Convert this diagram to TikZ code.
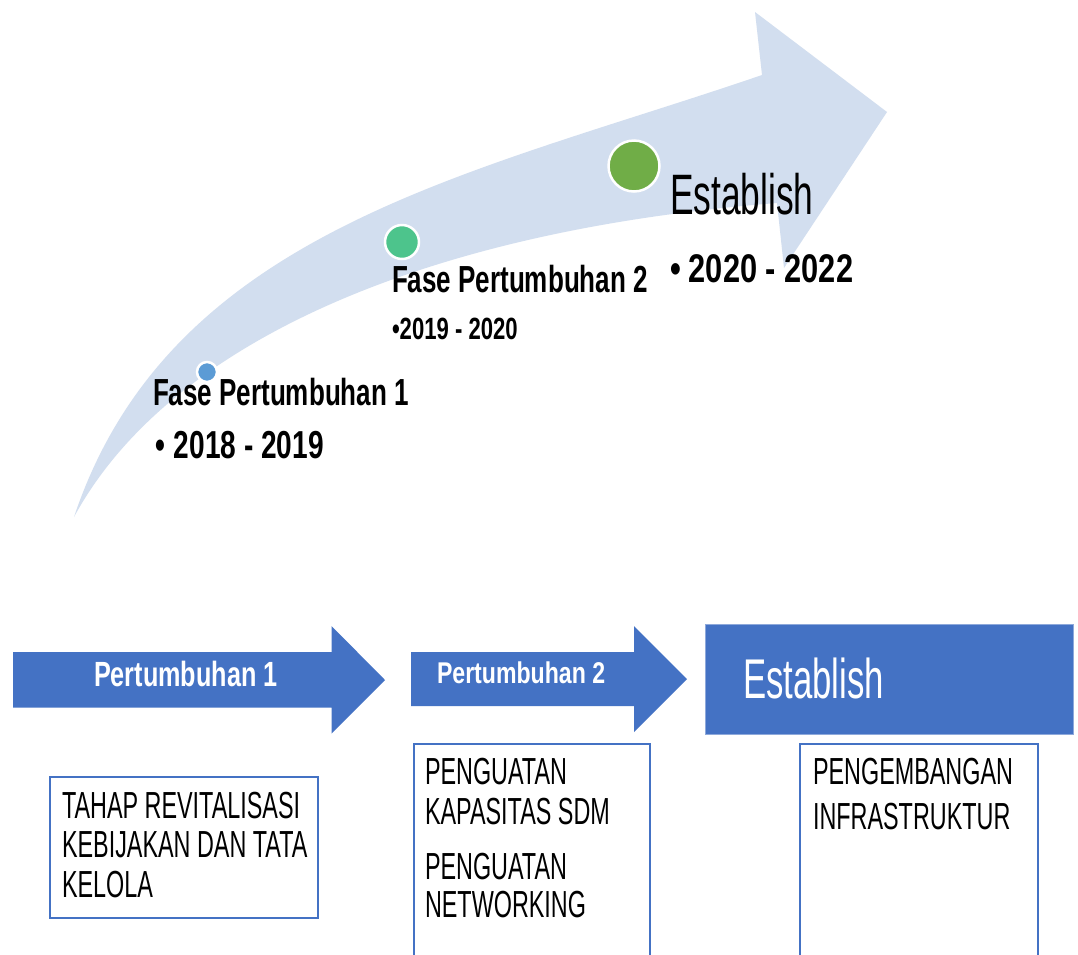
\documentclass[tikz,border=0pt]{standalone}
\usepackage{fontspec}
\newfontfamily\agr[FakeStretch=0.62]{Liberation Sans}
\newfontfamily\agb[FakeStretch=0.72]{Liberation Sans}
\newfontfamily\agbn[FakeStretch=0.69]{Liberation Sans}
\newfontfamily\agbw[FakeStretch=0.77]{Liberation Sans}
\definecolor{band}{HTML}{D2DEEF}
\definecolor{accent}{HTML}{4472C4}
\definecolor{accentlight}{HTML}{8EA9DB}
\definecolor{dotblue}{HTML}{5B9BD5}
\definecolor{dotteal}{HTML}{4DC48C}
\definecolor{dotgreen}{HTML}{70AD47}
\begin{document}
\begin{tikzpicture}[x=1pt,y=-1pt,
  lbl/.style={anchor=base west, inner sep=0pt, outer sep=0pt, text=black},
  boxtxt/.style={anchor=north west, inner sep=0pt, outer sep=0pt, align=left, text=black},
  dot/.style={circle, draw=white, line width=2.5pt, inner sep=0pt},
  box/.style={draw=accent, line width=2.2pt, anchor=north west, inner sep=0pt, fill=white}
]
\clip (0,0) rectangle (1078,954);
\useasboundingbox (0,0) rectangle (1078,954);
\fill[white] (0,0) rectangle (1078,954);

% curved arrow band
\coordinate (tail) at (74,517);
\coordinate (nu) at (762,75);
\coordinate (bu) at (755,12);
\coordinate (tip) at (887,112);
\coordinate (bl) at (784,268);
\coordinate (nl) at (777,203);
\fill[band] (tail) .. controls (170,230) and (470,175) .. (nu) -- (bu) -- (tip) -- (bl) -- (nl)
  .. controls (430,230) and (170,340) .. (tail) -- cycle;

% timeline dots
\node[dot, fill=dotblue, minimum size=20pt] (d1) at (207,372) {};
\node[dot, fill=dotteal, minimum size=34pt] (d2) at (402,242) {};
\node[dot, fill=dotgreen, minimum size=51pt] (d3) at (634,166) {};

% timeline labels
\node[lbl, font=\agbn\bfseries\fontsize{37.7}{40}\selectfont] (f1) at (153,405) {Fase Pertumbuhan 1};
\node[lbl, font=\agb\bfseries\fontsize{39}{40}\selectfont] (y1) at (155,458) {•\hspace{9pt}2018 - 2019};
\node[lbl, font=\agbn\bfseries\fontsize{37.7}{40}\selectfont] (f2) at (392,292) {Fase Pertumbuhan 2};
\node[lbl, font=\agb\bfseries\fontsize{30.7}{32}\selectfont] (y2) at (392,339) {•2019 - 2020};
\node[lbl, font=\agr\fontsize{57}{60}\selectfont] (f3) at (670,214) {Establish};
\node[lbl, font=\agbw\bfseries\fontsize{40}{42}\selectfont] (y3) at (670,282) {•\hspace{8pt}2020 - 2022};

% bottom flow arrows
\fill[accent] (13,652) -- (331.5,652) -- (331.5,626) -- (385,680) -- (331.5,733.5) -- (331.5,707.5) -- (13,707.5) -- cycle;
\fill[accent] (411,652) -- (634,652) -- (634,626) -- (687,679) -- (634,732) -- (634,706) -- (411,706) -- cycle;
\node[fill=accent, draw=accentlight, line width=1pt, anchor=north west, inner sep=0pt,
  minimum width=368pt, minimum height=110pt] (est) at (705,624) {};

\node[lbl, text=white, font=\agb\bfseries\fontsize{35}{36}\selectfont] (a1t) at (94,686) {Pertumbuhan 1};
\node[lbl, text=white, font=\agbw\bfseries\fontsize{30}{31}\selectfont] (a2t) at (437,683) {Pertumbuhan 2};
\node[lbl, text=white, font=\agr\fontsize{56}{58}\selectfont] (estt) at (743,698) {Establish};

% boxes
\node[box, minimum width=268pt, minimum height=141pt] (bx1) at (49,776) {};
\node[box, minimum width=236pt, minimum height=250pt] (bx2) at (413,743) {};
\node[box, minimum width=238pt, minimum height=250pt] (bx3) at (799,743) {};

\node[boxtxt, font=\agr\fontsize{37.7}{39.5}\selectfont] (t1) at (62,792)
  {TAHAP REVITALISASI\\KEBIJAKAN DAN TATA\\KELOLA};
\node[boxtxt, font=\agr\fontsize{37.7}{40}\selectfont] (t2a) at (425,758)
  {PENGUATAN\\KAPASITAS SDM};
\node[boxtxt, font=\agr\fontsize{37.7}{38}\selectfont] (t2b) at (425,853)
  {PENGUATAN\\NETWORKING};
\node[boxtxt, font=\agr\fontsize{37.7}{45}\selectfont] (t3) at (813,758)
  {PENGEMBANGAN\\INFRASTRUKTUR};
\end{tikzpicture}
\end{document}
